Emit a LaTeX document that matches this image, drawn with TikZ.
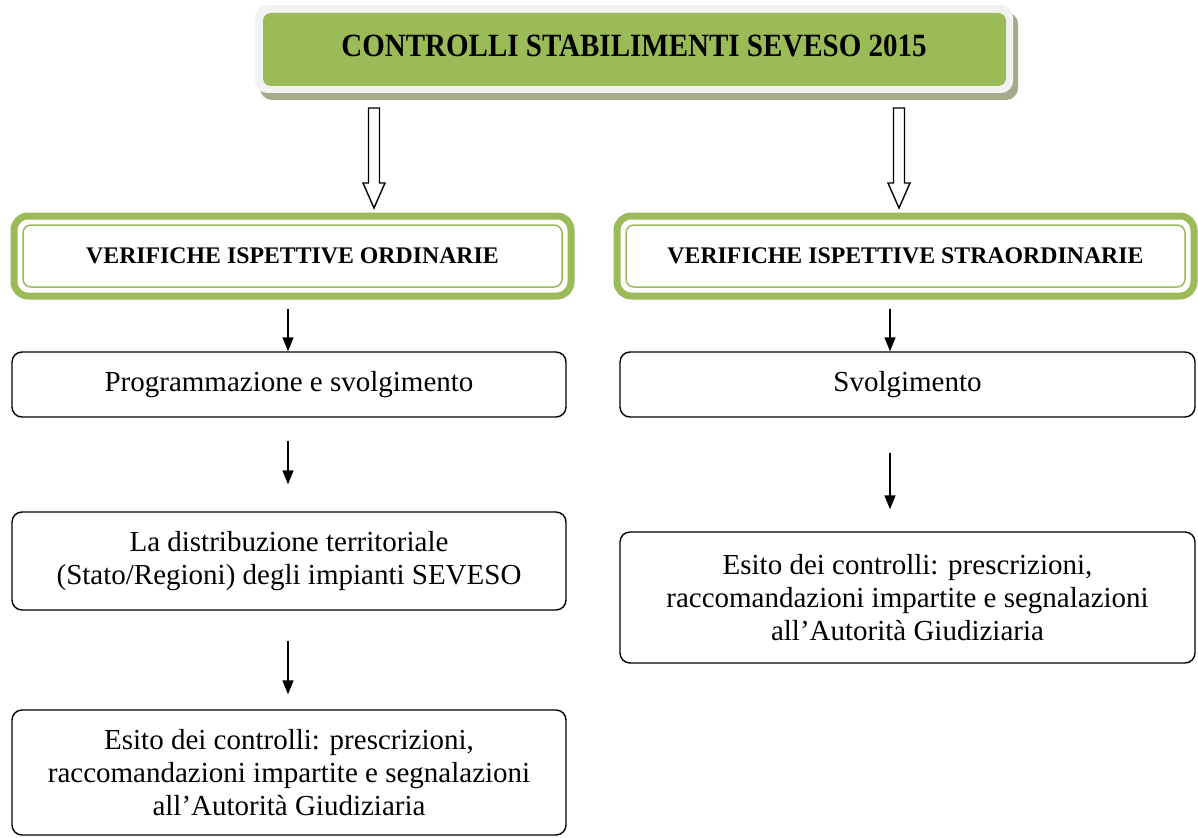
\documentclass[tikz,border=0pt]{standalone}
\usepackage{fontspec}
\setmainfont{Liberation Serif}
\usepackage{tikz}
\usetikzlibrary{arrows.meta, positioning, shadows}
\definecolor{olivegreen}{RGB}{155,187,89}
\definecolor{framegray}{RGB}{242,242,242}
\definecolor{shadowgreen}{RGB}{163,171,138}
\tikzstyle{titlebox} = [rectangle, rounded corners=12pt, fill=framegray, minimum width=758pt, minimum height=88pt, inner sep=0pt, drop shadow={shadow xshift=5pt, shadow yshift=-7pt, fill=shadowgreen, opacity=1}, path picture={\fill[olivegreen, rounded corners=8pt] ([shift={(8,8)}]path picture bounding box.north west) rectangle ([shift={(-7,-7)}]path picture bounding box.south east);}, font={\bfseries\fontsize{29pt}{34pt}\selectfont}]
\tikzstyle{headbox} = [rectangle, rounded corners=14pt, draw=olivegreen, line width=7pt, fill=white, minimum height=80pt, inner sep=0pt, path picture={\draw[olivegreen, line width=1.5pt, rounded corners=8pt] ([shift={(9,9)}]path picture bounding box.north west) rectangle ([shift={(-9,-9)}]path picture bounding box.south east);}, font={\bfseries\fontsize{23.8pt}{28pt}\selectfont}]
\tikzstyle{block} = [rectangle, rounded corners=10pt, draw=black, line width=1.4pt, align=center, inner sep=0pt, font={\fontsize{29pt}{33pt}\selectfont}]
\tikzstyle{arrow} = [line width=1.4pt, -{Triangle[length=14pt, width=11pt]}]
\tikzset{hollowarrow/.pic={\draw[line width=1.4pt, fill=white] (-5.5,0) -- (5.5,0) -- (5.5,75) -- (11,75) -- (0,100) -- (-11,75) -- (-5.5,75) -- cycle;}}

\begin{document}
\begin{tikzpicture}[x=1pt, y=-1pt, on grid]
    \useasboundingbox (0,0) rectangle (1198,837);
    % Title
    \node[titlebox] (title) at (634,49) {\raisebox{6pt}{\scalebox{1}[1.12]{CONTROLLI STABILIMENTI SEVESO 2015}}};
    \pic at (374,108) {hollowarrow};
    \pic at (899,108) {hollowarrow};
    % Headers
    \node[headbox, minimum width=557pt] (hdrL) at (292.5,256) {VERIFICHE ISPETTIVE ORDINARIE};
    \node[headbox, minimum width=577pt] (hdrR) at (905.5,256) {VERIFICHE ISPETTIVE STRAORDINARIE};
    % Left column
    \node[block, minimum width=554pt, minimum height=65pt, below=128.5pt of hdrL, xshift=-3.5pt] (prog) {Programmazione e svolgimento};
    \node[block, minimum width=554pt, minimum height=98pt, below=176.5pt of prog] (distr) {La distribuzione territoriale\\(Stato/Regioni) degli impianti SEVESO};
    \node[block, minimum width=554pt, minimum height=125pt, below=211.5pt of distr] (esitoL) {Esito dei controlli: prescrizioni,\\raccomandazioni impartite e segnalazioni\\all’Autorità Giudiziaria};
    % Right column
    \node[block, minimum width=575pt, minimum height=65pt, below=128.5pt of hdrR, xshift=2pt] (svolg) {Svolgimento};
    \node[block, minimum width=575pt, minimum height=131pt, below=213pt of svolg] (esitoR) {Esito dei controlli: prescrizioni,\\raccomandazioni impartite e segnalazioni\\all’Autorità Giudiziaria};

    % Arrows
    \draw[arrow, shorten <=9pt] ([xshift=-4.5pt]hdrL.south) -- ([xshift=-1pt]prog.north);
    \draw[arrow, shorten <=23pt, shorten >=27pt] ([xshift=-1pt]prog.south) -- ([xshift=-1pt]distr.north);
    \draw[arrow, shorten <=30pt, shorten >=15pt] ([xshift=-1pt]distr.south) -- ([xshift=-1pt]esitoL.north);
    \draw[arrow, shorten <=9pt] ([xshift=-15.5pt]hdrR.south) -- ([xshift=-17.5pt]svolg.north);
    \draw[arrow, shorten <=35pt, shorten >=22pt] ([xshift=-17.5pt]svolg.south) -- ([xshift=-17.5pt]esitoR.north);
\end{tikzpicture}
\end{document}
